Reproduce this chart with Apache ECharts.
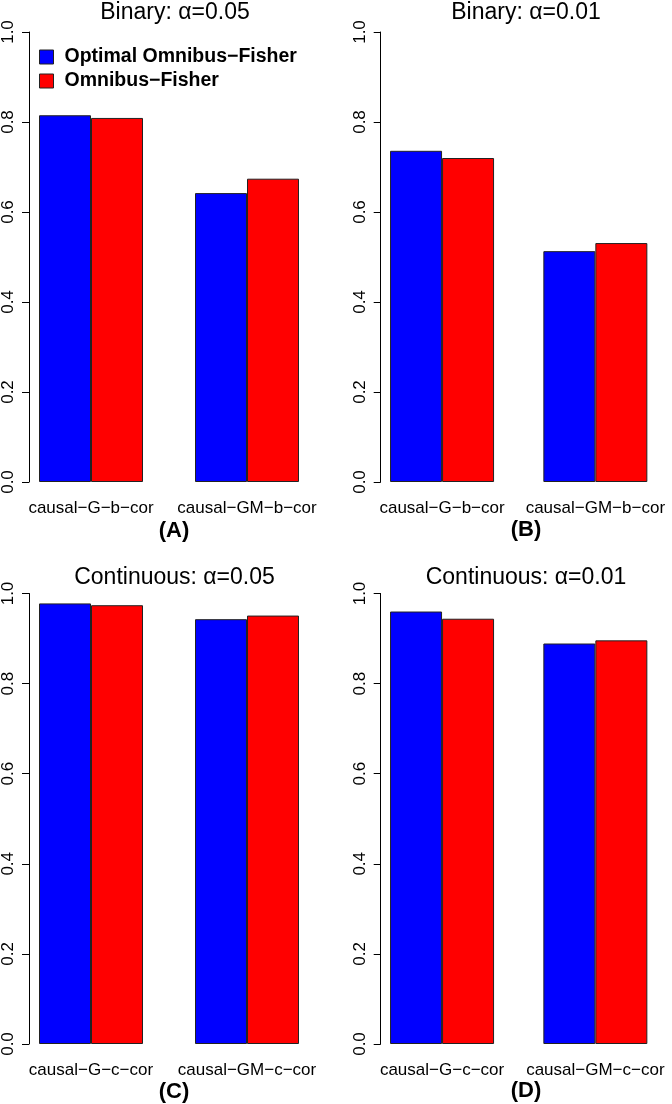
<!DOCTYPE html>
<html>
<head>
<meta charset="utf-8">
<script src="https://cdn.jsdelivr.net/npm/echarts@6/dist/echarts.min.js"></script>
<style>html,body{margin:0;padding:0;background:#fff}#c{width:672px;height:1104px}</style>
</head>
<body>
<div id="c"></div>
<script>
// ---- data ----
const seriesNames = ['Optimal Omnibus\u2212Fisher', 'Omnibus\u2212Fisher'];
const catsBinary = ['causal\u2212G\u2212b\u2212cor', 'causal\u2212GM\u2212b\u2212cor'];
const catsCont = ['causal\u2212G\u2212c\u2212cor', 'causal\u2212GM\u2212c\u2212cor'];
const panelTitles = ['Binary: \u03b1=0.05', 'Binary: \u03b1=0.01', 'Continuous: \u03b1=0.05', 'Continuous: \u03b1=0.01'];
const panelTags = ['(A)', '(B)', '(C)', '(D)'];
const yTicks = [0, 0.2, 0.4, 0.6, 0.8, 1.0];
// values: [optimal, omnibus] per category
const optA = [0.815, 0.642];
const omnA = [0.809, 0.674];
const optB = [0.736, 0.513];
const omnB = [0.720, 0.531];
const optC = [0.978, 0.943];
const omnC = [0.974, 0.951];
const optD = [0.960, 0.889];
const omnD = [0.944, 0.896];

const panels = [
  {cats: catsBinary, opt: optA, omn: omnA},
  {cats: catsBinary, opt: optB, omn: omnB},
  {cats: catsCont, opt: optC, omn: omnC},
  {cats: catsCont, opt: optD, omn: omnD}
];

// layout (px)
const gridPos = [
  {left: 13, top: 32, width: 312, height: 450, axisX: 29, titleX: 170, titleY: 8, tagX: 169, tagY: 527},
  {left: 365.4, top: 32, width: 313, height: 450, axisX: 380.7, titleX: 521, titleY: 8, tagX: 521, tagY: 526},
  {left: 13, top: 593.5, width: 312, height: 450.5, axisX: 29, titleX: 169.5, titleY: 573, tagX: 169, tagY: 1088},
  {left: 365.4, top: 593.5, width: 313, height: 450.5, axisX: 380.7, titleX: 521, titleY: 573, tagX: 521, tagY: 1087}
];
const FONT = '"Liberation Sans", Arial, Helvetica, sans-serif';
const colors = ['#0000FF', '#FF0000'];

const grids = [], xAxes = [], yAxes = [], series = [], titles = [];
panels.forEach((p, i) => {
  const g = gridPos[i];
  grids.push({left: g.left, top: g.top, width: g.width, height: g.height, containLabel: false});
  xAxes.push({
    type: 'category', gridIndex: i, data: p.cats,
    axisLine: {show: false}, axisTick: {show: false},
    axisLabel: {fontSize: 17, color: '#000', fontFamily: FONT, margin: 18, interval: 0}
  });
  yAxes.push({
    type: 'value', gridIndex: i, min: 0, max: 1, interval: 0.2,
    offset: -(g.axisX - g.left),
    splitLine: {show: false},
    axisLine: {show: true, lineStyle: {color: '#000', width: 1}},
    axisTick: {show: true, length: 7, lineStyle: {color: '#000'}},
    axisLabel: {
      rotate: 90, fontSize: 17, color: '#000', fontFamily: FONT, margin: 12,
      formatter: v => { const t = yTicks.find(x => Math.abs(x - v) < 1e-9); return t === undefined ? '' : t.toFixed(1); }
    }
  });
  [p.opt, p.omn].forEach((vals, k) => {
    series.push({
      type: 'bar', name: seriesNames[k], xAxisIndex: i, yAxisIndex: i,
      data: vals, barWidth: 52, barGap: '0%',
      itemStyle: {color: colors[k], borderColor: '#222', borderWidth: 1},
      animation: false
    });
  });
  titles.push({
    text: panelTitles[i], left: g.titleX, top: g.titleY - 12, textAlign: 'center',
    textStyle: {fontSize: 23, fontWeight: 'normal', color: '#000', fontFamily: FONT}
  });
  titles.push({
    text: panelTags[i], left: g.tagX, top: g.tagY - 12, textAlign: 'center',
    textStyle: {fontSize: 22, fontWeight: 'bold', color: '#000', fontFamily: FONT}
  });
});

const chart = echarts.init(document.getElementById('c'), null, {renderer: 'canvas'});
chart.setOption({
  backgroundColor: '#fff',
  animation: false,
  title: titles,
  legend: {
    data: seriesNames, orient: 'vertical', left: 39, top: 47, padding: 0,
    itemWidth: 14, itemHeight: 14, itemGap: 4, icon: 'rect',
    textStyle: {fontSize: 19.5, fontWeight: 'bold', color: '#000', fontFamily: FONT, padding: [0, 0, 0, 6]},
    itemStyle: {borderColor: '#222', borderWidth: 1},
    selectedMode: false
  },
  grid: grids, xAxis: xAxes, yAxis: yAxes, series: series
});
</script>
</body>
</html>
